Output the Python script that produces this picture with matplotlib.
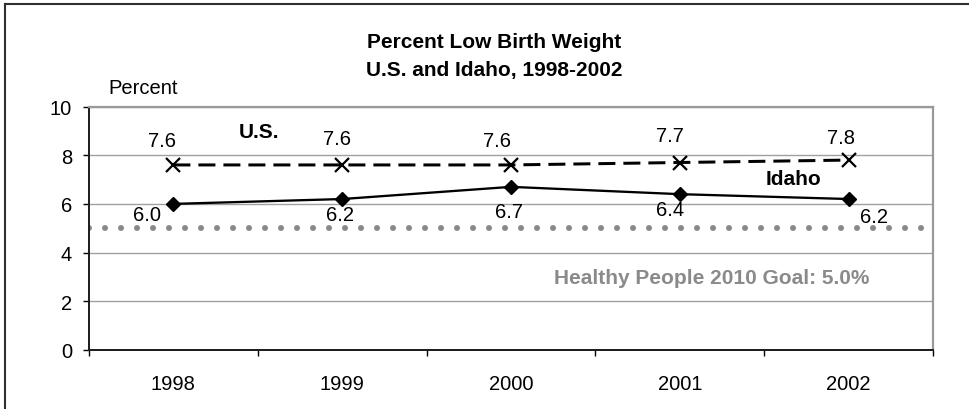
import matplotlib
matplotlib.use("Agg")
import matplotlib.pyplot as plt
from matplotlib.lines import Line2D
import numpy as np

plt.rcParams['font.family'] = ['Liberation Sans', 'DejaVu Sans']

years = ["1998", "1999", "2000", "2001", "2002"]
us_values = [7.6, 7.6, 7.6, 7.7, 7.8]
idaho_values = [6.0, 6.2, 6.7, 6.4, 6.2]
goal_value = 5.0
y_ticks = [0, 2, 4, 6, 8, 10]

title_lines = ["Percent Low Birth Weight", "U.S. and Idaho, 1998-2002"]
goal_text = "Healthy People 2010 Goal: 5.0%"

# label offsets in pixels (layout only)
us_off = [(-11, 24), (-5, 26), (-14, 24), (-10, 27), (-8, 23)]
id_off = [(-26, -11), (-2, -15), (-2, -25), (-10, -15), (25, -17)]

W, H = 970, 410
fig = plt.figure(figsize=(W / 100, H / 100), dpi=100)
ax = fig.add_axes([89 / W, 1 - 351 / H, (933 - 89) / W, (351 - 107.5) / H])

x = np.arange(len(years))
PT = 0.72  # points per pixel

# goal dotted line: dots 6px wide, 16px apart (unscaled dash units = points)
with plt.rc_context({"lines.scale_dashes": False}):
    ax.axhline(goal_value, color="#888888", lw=6 * PT,
               linestyle=(0, (0.01, 16 * PT - 0.01)),
               dash_capstyle="round", zorder=2)

# US dashed line
lw_us = 3 * PT
ax.plot(x, us_values, color="black", lw=lw_us, linestyle=(0, (17 * PT / lw_us, 8 * PT / lw_us)),
        marker="x", markersize=10.5, markeredgewidth=1.6, zorder=4)
# Idaho solid line
ax.plot(x, idaho_values, color="black", lw=2.3 * PT, marker="D", markersize=7.2,
        markeredgewidth=1, zorder=4)

for i in range(len(x)):
    ax.annotate(f"{us_values[i]:.1f}", (x[i], us_values[i]),
                xytext=(us_off[i][0] * PT, us_off[i][1] * PT), textcoords="offset points",
                ha="center", va="center", fontsize=14.5, color="black")
    ax.annotate(f"{idaho_values[i]:.1f}", (x[i], idaho_values[i]),
                xytext=(id_off[i][0] * PT, id_off[i][1] * PT), textcoords="offset points",
                ha="center", va="center", fontsize=14.5, color="black")

ax.set_xlim(-0.5, len(years) - 0.5)
ax.set_ylim(0, 10)
ax.set_yticks(y_ticks)
ax.set_yticklabels([str(v) for v in y_ticks])
ax.set_xticks(x)
ax.set_xticklabels(years)
ax.set_xticks(np.arange(-0.5, len(years), 1.0), minor=True)

ax.grid(axis="y", color="#a0a0a0", lw=1.0, zorder=0)
ax.set_axisbelow(True)

ax.tick_params(axis="x", which="major", length=0, pad=17, labelsize=14.5)
ax.tick_params(axis="x", which="minor", length=6 * PT, width=1, direction="out", color="black")
ax.tick_params(axis="y", which="major", length=6 * PT, width=1, direction="out",
               pad=8, labelsize=14.5, color="black")

for side in ["left", "bottom"]:
    ax.spines[side].set_color("#202020")
    ax.spines[side].set_linewidth(2 * PT)
for side in ["top", "right"]:
    ax.spines[side].set_color("#999999")
    ax.spines[side].set_linewidth(2.2 * PT)

# texts
fig.text(108 / W, 1 - 88 / H, "Percent", fontsize=14.5, ha="left", va="center")
fig.text(494 / W, 1 - 42 / H, title_lines[0], fontsize=15, fontweight="bold",
         ha="center", va="center")
fig.text(494 / W, 1 - 71 / H, title_lines[1], fontsize=15, fontweight="bold",
         ha="center", va="center")
fig.text(259.5 / W, 1 - 132 / H, "U.S.", fontsize=15, fontweight="bold", ha="center", va="center")
fig.text(794 / W, 1 - 180 / H, "Idaho", fontsize=15, fontweight="bold", ha="center", va="center")
fig.text(712 / W, 1 - 279 / H, goal_text, fontsize=15, fontweight="bold", color="#8a8a8a",
         ha="center", va="center")

# outer border (left and top edges)
fig.add_artist(Line2D([5 / W, 5 / W], [0, 1 - 5 / H], transform=fig.transFigure,
                      color="#303030", lw=1.5))
fig.add_artist(Line2D([5 / W, 1], [1 - 5 / H, 1 - 5 / H], transform=fig.transFigure,
                      color="#303030", lw=1.5))

fig.savefig("out.png", dpi=100)
